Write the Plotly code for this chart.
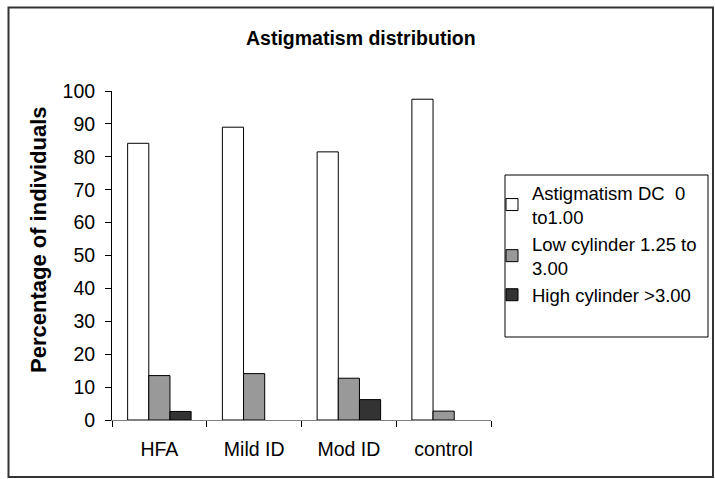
import plotly.graph_objects as go

categories = ["HFA", "Mild ID", "Mod ID", "control"]
series_names = ["Astigmatism DC\u00a0 0<br>to1.00", "Low cylinder 1.25 to<br>3.00", "High cylinder >3.00"]
astig_dc = [84.1, 89.0, 81.5, 97.5]
low_cyl = [13.5, 14.1, 12.7, 2.7]
high_cyl = [2.6, None, 6.2, None]
colors = ["#ffffff", "#999999", "#333333"]

W, H = 715, 479
L, R, T, B = 112, 715 - 491, 91, 479 - 420
pw, ph = W - L - R, H - T - B

def px(x):
    return (x - L) / pw

def py(y):
    return (H - B - y) / ph

fig = go.Figure()
for name, vals, col in zip(series_names, [astig_dc, low_cyl, high_cyl], colors):
    fig.add_trace(go.Bar(x=categories, y=vals, name=name,
                         marker=dict(color=col, line=dict(color="#000000", width=1))))

font = "Liberation Sans, Arial, sans-serif"
fig.update_layout(
    width=W, height=H,
    margin=dict(l=L, r=R, t=T, b=B, autoexpand=False),
    paper_bgcolor="white", plot_bgcolor="white",
    barmode="group", bargap=0.33, bargroupgap=0,
    font=dict(family=font, size=19.5, color="#000000"),
    showlegend=True,
    legend=dict(x=px(492), y=py(174), xanchor="left", yanchor="top",
                bgcolor="rgba(0,0,0,0)", borderwidth=0,
                font=dict(size=18.5), tracegroupgap=0, itemwidth=30),
    xaxis=dict(type="category", showline=True, linecolor="#808080", linewidth=1,
               ticks="outside", tickson="boundaries", ticklen=6, tickcolor="#000000",
               showgrid=False, ticklabelstandoff=12),
    yaxis=dict(range=[0, 100], tickvals=list(range(0, 101, 10)), showline=True,
               linecolor="#000000", linewidth=1, ticks="outside", ticklen=6,
               tickcolor="#000000", showgrid=False, zeroline=False, ticklabelstandoff=6),
)

fig.add_annotation(text="<b>Percentage of individuals</b>", xref="paper", yref="paper",
                   x=px(38), y=py(240), xanchor="center", yanchor="middle", textangle=-90,
                   showarrow=False, font=dict(size=22))
fig.add_annotation(text="<b>Astigmatism distribution</b>", xref="paper", yref="paper",
                   x=px(361), y=py(38), xanchor="center", yanchor="middle",
                   showarrow=False, font=dict(size=19.5))

# legend box
fig.add_shape(type="rect", xref="paper", yref="paper",
              x0=px(505), x1=px(708), y0=py(175), y1=py(337),
              line=dict(color="#000000", width=1), fillcolor="rgba(0,0,0,0)")
# outer chart border
fig.add_shape(type="rect", xref="paper", yref="paper",
              x0=px(8.5), x1=px(713), y0=py(7.5), y1=py(477),
              line=dict(color="#333333", width=2), fillcolor="rgba(0,0,0,0)", layer="below")

fig.write_html("out.html")
